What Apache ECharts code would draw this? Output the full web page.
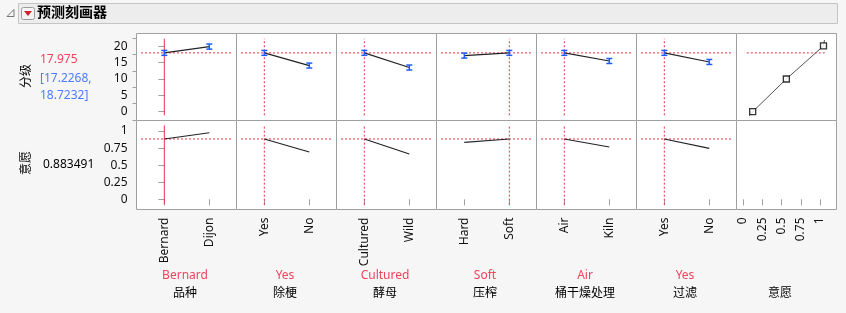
<!DOCTYPE html>
<html>
<head>
<meta charset="utf-8">
<script src="https://cdn.jsdelivr.net/npm/echarts@6/dist/echarts.min.js"></script>
<style>
html,body{margin:0;padding:0;background:#f6f6f6;}
#c{width:846px;height:313px;}
</style>
</head>
<body>
<div id="c"></div>
<script>
// ---------- data ----------
const title = '预测刻画器';
const responseName = '分级';
const desirName = '意愿';
const factors = ['品种', '除梗', '酵母', '压榨', '桶干燥处理', '过滤'];
const levels = [['Bernard', 'Dijon'], ['Yes', 'No'], ['Cultured', 'Wild'], ['Hard', 'Soft'], ['Air', 'Kiln'], ['Yes', 'No']];
const currentIdx = [0, 0, 0, 1, 0, 0];
const gradeValues = [[17.975, 19.9], [17.975, 14.1], [17.975, 13.5], [17.15, 17.975], [17.975, 15.5], [17.975, 15.2]];
const gradeHalfCI = [[0.75, 0.78], [0.75, 0.76], [0.75, 0.76], [0.76, 0.75], [0.75, 0.76], [0.75, 0.76]];
const desirValues = [[0.8835, 0.975], [0.8835, 0.693], [0.8835, 0.663], [0.835, 0.8835], [0.8835, 0.766], [0.8835, 0.747]];
const gradeCurrent = 17.975;
const gradeCI = ['17.2268', '18.7232'];
const desirCurrent = '0.883491';
const gradeTicks = [0, 5, 10, 15, 20];
const gradeMinorTicks = [-2.5, 2.5, 7.5, 12.5, 17.5, 22.5];
const desirTicks = [0, 0.25, 0.5, 0.75, 1];
// desirability function (desirability, 分级)
const dFuncD = [0.082, 0.126, 0.563, 1.045, 1.058];
const dFuncY = [-1.3, 0, 10, 20.1, 21.9];
const dHandleD = [0.126, 0.563, 1.045];
const dHandleY = [0, 10, 20.1];

// ---------- layout / style ----------
const FONT = '"Noto Sans", "Noto Sans CJK SC", sans-serif';
const RED = '#e8334a', RED_TXT = '#f0425c', BLUE = '#1f5cff', BLUE_TXT = '#4c7cff';
const GRAY = '#a0a0a0';
const PL = 136.5, PW = 100, T1 = 33.5, H1 = 87, T2 = 120.5, H2 = 89;
const XMIN = -0.618, XMAX = 1.604;
const Y1MIN = -2.69, Y1MAX = 23.9;
const Y2MIN = -0.149, Y2MAX = 1.154;
const DMIN = -0.084, DMAX = 1.214;

const grids = [], xAxes = [], yAxes = [], series = [];
for (let r = 0; r < 2; r++) {
  for (let c = 0; c < 7; c++) {
    grids.push({left: PL + PW * c, top: r === 0 ? T1 : T2, width: PW, height: r === 0 ? H1 : H2,
      show: true, borderColor: GRAY, borderWidth: 1, backgroundColor: '#fff', containLabel: false});
  }
}
for (let r = 0; r < 2; r++) {
  for (let c = 0; c < 7; c++) {
    const gi = r * 7 + c;
    const isD = c === 6;
    const showX = r === 1;
    xAxes.push({
      type: 'value', gridIndex: gi, min: isD ? DMIN : XMIN, max: isD ? DMAX : XMAX,
      show: showX, splitLine: {show: false}, axisLine: {show: false},
      axisTick: {show: true, length: 6, lineStyle: {color: GRAY}, customValues: isD ? desirTicks : [0, 1]},
      axisLabel: {show: true, rotate: 90, margin: 8, fontSize: 12, fontFamily: FONT, color: '#111',
        customValues: isD ? desirTicks : [0, 1],
        formatter: isD ? (v => String(v)) : (v => levels[c][Math.round(v)])}
    });
    const isY1 = r === 0;
    yAxes.push({
      type: 'value', gridIndex: gi, min: isY1 ? Y1MIN : Y2MIN, max: isY1 ? Y1MAX : Y2MAX,
      show: c === 0, splitLine: {show: false}, axisLine: {show: false},
      axisTick: {show: true, length: 6, lineStyle: {color: GRAY}, customValues: isY1 ? gradeTicks : desirTicks},
      axisLabel: {show: true, margin: 9, fontSize: 12, fontFamily: FONT, color: '#111',
        customValues: isY1 ? gradeTicks : desirTicks, formatter: v => String(v)}
    });
  }
}
// minor ticks for top-left axis
yAxes.push({type: 'value', gridIndex: 0, min: Y1MIN, max: Y1MAX, position: 'left', splitLine: {show: false},
  axisLine: {show: false}, axisLabel: {show: false},
  axisTick: {show: true, length: 4, lineStyle: {color: GRAY}, customValues: gradeMinorTicks}});

function lineSeries(gi, data, color, type, width) {
  return {type: 'line', xAxisIndex: gi, yAxisIndex: gi, data: data, showSymbol: false, symbol: 'none',
    silent: true, lineStyle: {color: color, width: width || 1, type: type || 'solid'}, z: 3};
}
const dash = [2, 2];
const ix = (XMAX - XMIN) * 0.045;
const iy1 = (Y1MAX - Y1MIN) * 0.06, iy2 = (Y2MAX - Y2MIN) * 0.055;

for (let c = 0; c < 6; c++) {
  const top = c, bot = 7 + c;
  const cur = currentIdx[c];
  // reference lines
  series.push(lineSeries(top, [[XMIN + ix, gradeCurrent], [XMAX - ix, gradeCurrent]], RED, dash));
  series.push(lineSeries(top, [[cur, Y1MIN + iy1], [cur, Y1MAX - iy1]], RED, c === 0 ? 'solid' : dash));
  series.push(lineSeries(bot, [[XMIN + ix, +desirCurrent], [XMAX - ix, +desirCurrent]], RED, dash));
  series.push(lineSeries(bot, [[cur, Y2MIN + iy2], [cur, Y2MAX - iy2]], RED, c === 0 ? 'solid' : dash));
  // profile lines
  series.push(lineSeries(top, gradeValues[c].map((v, i) => [i, v]), '#222', 'solid', 1.2));
  series.push(lineSeries(bot, desirValues[c].map((v, i) => [i, v]), '#222', 'solid', 1.2));
  // error bars
  series.push({
    type: 'custom', xAxisIndex: top, yAxisIndex: top, silent: true, z: 5,
    data: gradeValues[c].map((v, i) => [i, v, v - gradeHalfCI[c][i], v + gradeHalfCI[c][i]]),
    encode: {x: 0, y: 1},
    renderItem: function (params, api) {
      const lo = api.coord([api.value(0), api.value(2)]);
      const hi = api.coord([api.value(0), api.value(3)]);
      const st = {stroke: BLUE, lineWidth: 1.5};
      return {type: 'group', children: [
        {type: 'line', shape: {x1: lo[0], y1: lo[1], x2: hi[0], y2: hi[1]}, style: st},
        {type: 'line', shape: {x1: lo[0] - 3, y1: lo[1], x2: lo[0] + 3, y2: lo[1]}, style: st},
        {type: 'line', shape: {x1: hi[0] - 3, y1: hi[1], x2: hi[0] + 3, y2: hi[1]}, style: st}
      ]};
    }
  });
}
// desirability function panel
series.push(lineSeries(6, [[0.05, gradeCurrent], [1.07, gradeCurrent]], RED, dash));
series.push(lineSeries(6, dFuncD.map((d, i) => [d, dFuncY[i]]), '#555', 'solid', 1));
series.push({type: 'scatter', xAxisIndex: 6, yAxisIndex: 6, silent: true, z: 6,
  data: dHandleD.map((d, i) => [d, dHandleY[i]]), symbol: 'rect', symbolSize: 6,
  itemStyle: {color: '#fff', borderColor: '#000', borderWidth: 1.3}});

// ---------- graphic texts ----------
const graphic = [
  {type: 'rect', shape: {x: 18.5, y: 3.5, width: 819, height: 20}, style: {fill: '#ededed', stroke: '#c4c4c4', lineWidth: 1}},
  {type: 'polyline', shape: {points: [[14, 9.5], [14, 16.5], [7, 16.5], [14, 9.5]]}, style: {fill: 'none', stroke: '#777', lineWidth: 1}},
  {type: 'rect', shape: {x: 21.5, y: 7.5, width: 13, height: 12, r: 2}, style: {fill: '#f4f4f4', stroke: '#9a9a9a', lineWidth: 1}},
  {type: 'polygon', shape: {points: [[24, 11], [32, 11], [28, 16]]}, style: {fill: '#d0202a'}},
  {type: 'text', x: 37, y: 13.5, style: {text: title, font: 'bold 14px ' + FONT, fill: '#000', verticalAlign: 'middle'}},
  {type: 'text', x: 27, y: 76, rotation: Math.PI / 2, style: {text: responseName, font: '12px ' + FONT, fill: '#000', align: 'center', verticalAlign: 'middle'}},
  {type: 'text', x: 40, y: 60, style: {text: String(gradeCurrent), font: '12px ' + FONT, fill: RED_TXT, verticalAlign: 'middle'}},
  {type: 'text', x: 40, y: 79, style: {text: '[' + gradeCI[0] + ',', font: '12px ' + FONT, fill: BLUE_TXT, verticalAlign: 'middle'}},
  {type: 'text', x: 40, y: 95.5, style: {text: gradeCI[1] + ']', font: '12px ' + FONT, fill: BLUE_TXT, verticalAlign: 'middle'}},
  {type: 'text', x: 27, y: 163, rotation: Math.PI / 2, style: {text: desirName, font: '12px ' + FONT, fill: '#000', align: 'center', verticalAlign: 'middle'}},
  {type: 'text', x: 43, y: 165, style: {text: desirCurrent, font: '12px ' + FONT, fill: '#000', verticalAlign: 'middle'}}
];
for (let c = 0; c < 6; c++) {
  const cx = PL + PW * c + 48.5;
  graphic.push({type: 'text', x: cx, y: 276, style: {text: levels[c][currentIdx[c]], font: '12px ' + FONT, fill: RED_TXT, align: 'center', verticalAlign: 'middle'}});
  graphic.push({type: 'text', x: cx, y: 294, style: {text: factors[c], font: '12px ' + FONT, fill: '#000', align: 'center', verticalAlign: 'middle'}});
}
graphic.push({type: 'text', x: 780, y: 294, style: {text: desirName, font: '12px ' + FONT, fill: '#000', align: 'center', verticalAlign: 'middle'}});

const chart = echarts.init(document.getElementById('c'), null, {renderer: 'canvas'});
chart.setOption({
  animation: false,
  backgroundColor: '#f6f6f6',
  textStyle: {fontFamily: FONT},
  grid: grids, xAxis: xAxes, yAxis: yAxes, series: series, graphic: graphic
});
</script>
</body>
</html>
